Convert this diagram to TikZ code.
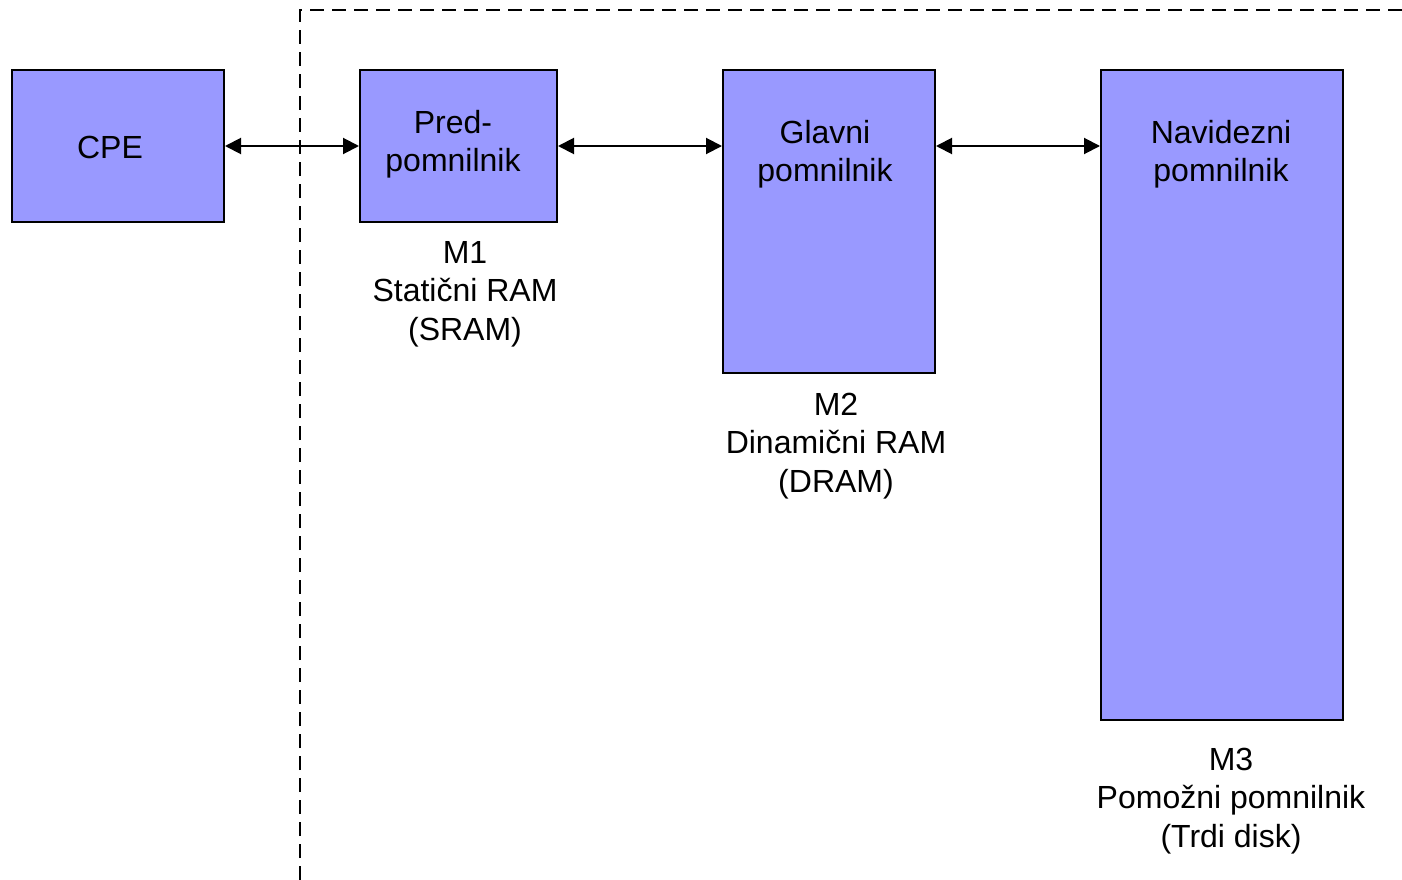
\documentclass[tikz,border=0pt]{standalone}
\usepackage{fontspec}
\setmainfont{Liberation Sans}
\usetikzlibrary{arrows.meta}
\tikzset{
  blk/.style={draw=black, line width=2pt, fill=memfill, rectangle, inner sep=0pt},
  txt/.style={inner sep=0pt, align=center, font=\fontsize{32}{38.5}\selectfont},
  conn/.style={line width=2pt, {Triangle[length=16pt,width=16pt]}-{Triangle[length=16pt,width=16pt]}},
  frame/.style={line width=2.2pt, dash pattern=on 14pt off 8pt}
}
\definecolor{memfill}{HTML}{9999FF}
\begin{document}
\begin{tikzpicture}[x=1pt,y=-1pt]
\useasboundingbox (0,0) rectangle (1402,880);

% dashed boundary of the memory hierarchy
\coordinate (fc) at (300,10);
\draw[frame] (fc |- 0,880) -- (fc) -- (1402,10);

% memory blocks
\node[blk, minimum width=212pt, minimum height=152pt] (cpe)  at (118,146) {};
\node[blk, minimum width=197pt, minimum height=152pt] (pred) at (458.5,146) {};
\node[blk, minimum width=212pt, minimum height=303pt] (glav) at (829,221.5) {};
\node[blk, minimum width=242pt, minimum height=650pt] (navi) at (1222,395) {};

% block titles
\node[txt] (tcpe)  at (110,147) {CPE};
\node[txt] (tpred) at (453,144) {Pred-\\pomnilnik};
\node[txt] (tglav) at (825,154) {Glavni\\pomnilnik};
\node[txt] (tnavi) at (1221,154) {Navidezni\\pomnilnik};

% captions below the blocks
\node[txt] (m1) at (465,294) {M1\\Statični RAM\\(SRAM)};
\node[txt] (m2) at (836,446) {M2\\Dinamični RAM\\(DRAM)};
\node[txt] (m3) at (1231,801) {M3\\Pomožni pomnilnik\\(Trdi disk)};

% data paths
\draw[conn] (cpe.east) -- (pred.west);
\draw[conn] (pred.east) -- (pred.east -| glav.west);
\draw[conn] (pred.east -| glav.east) -- (pred.east -| navi.west);
\end{tikzpicture}
\end{document}
